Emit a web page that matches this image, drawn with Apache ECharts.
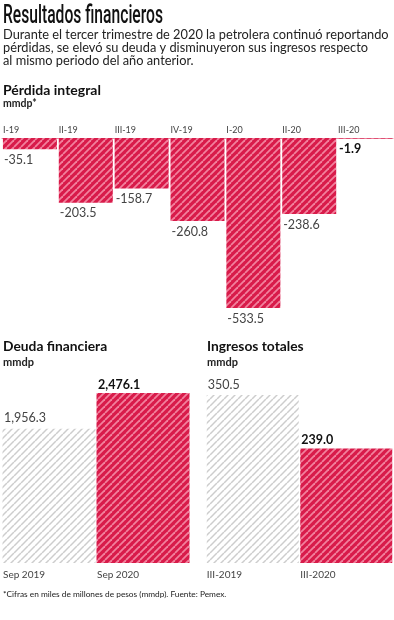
<!DOCTYPE html>
<html><head><meta charset="utf-8">
<script src="https://cdn.jsdelivr.net/npm/echarts@6/dist/echarts.min.js"></script>
<style>html,body{margin:0;padding:0;background:#fff}#c{width:394px;height:620px}</style>
</head><body><div id="c"></div>
<script>
// ---- data ----
const perdidaCats = ['I-19','II-19','III-19','IV-19','I-20','II-20','III-20'];
const perdidaVals = [-35.1, -203.5, -158.7, -260.8, -533.5, -238.6, -1.9];
const deudaCats = ['Sep 2019','Sep 2020'];
const deudaVals = [1956.3, 2476.1];
const ingresosCats = ['III-2019','III-2020'];
const ingresosVals = [350.5, 239.0];
const titleText = 'Resultados financieros';
const subtitleLines = ['Durante el tercer trimestre de 2020 la petrolera continuó reportando','pérdidas, se elevó su deuda y disminuyeron sus ingresos respecto','al mismo periodo del año anterior.'];
const footnote = '*Cifras en miles de millones de pesos (mmdp). Fuente: Pemex.';

function hatch(base, stripe, lw){
  const s = 7, c = document.createElement('canvas');
  c.width = s; c.height = s;
  const g = c.getContext('2d');
  g.fillStyle = base; g.fillRect(0,0,s,s);
  g.strokeStyle = stripe; g.lineWidth = lw;
  for (const o of [-s, 0, s]) { g.beginPath(); g.moveTo(o, s); g.lineTo(o + s, 0); g.stroke(); }
  return {image: c, repeat: 'repeat'};
}
const RED = hatch('#d81b4a', '#f2819d', 1.8);
const GRAY = hatch('#ffffff', '#cdcdcd', 1.5);

const sans = 'Lato, "Open Sans", sans-serif';
const fmt = v => v.toLocaleString('en-US',{minimumFractionDigits:1, maximumFractionDigits:1});

function catLabel(w, size){
  return {interval: 0, formatter: v => '{a|' + v + '}', rich: {a: {width: w, align: 'left', fontSize: size, color: '#444', fontFamily: sans}}};
}

// title: condensed look via horizontal scaling
const titleFont = '500 25px Roboto, sans-serif';
const mctx = document.createElement('canvas').getContext('2d');
mctx.font = titleFont;
const titleScale = 160 / mctx.measureText(titleText).width;

const chart = echarts.init(document.getElementById('c'), null, {renderer:'canvas'});
const txt = (x, y, t, size, weight, color, family) => ({type:'text', x, y, style:{text:t, font: (weight||'normal') + ' ' + size + 'px ' + (family||sans), fill: color||'#111', textVerticalAlign:'middle'}});

const titleEl = {type:'text', x:3, y:17, scaleX: titleScale, style:{text: titleText, font: titleFont, fill:'#111', textVerticalAlign:'middle'}};

const graphics = [
  titleEl,
  txt(3, 35, subtitleLines[0], 12.8, 'normal', '#222'),
  txt(3, 48, subtitleLines[1], 12.8, 'normal', '#222'),
  txt(3, 61, subtitleLines[2], 12.8, 'normal', '#222'),
  txt(3, 90, 'Pérdida integral', 14, 'bold', '#111'),
  txt(3, 104, 'mmdp*', 10.5, 'bold', '#222'),
  txt(3, 347, 'Deuda financiera', 13.8, 'bold', '#111'),
  txt(3, 362, 'mmdp', 11, 'bold', '#222'),
  txt(207, 347, 'Ingresos totales', 13.8, 'bold', '#111'),
  txt(207, 362, 'mmdp', 11, 'bold', '#222'),
  txt(3, 594, footnote, 8.3, 'normal', '#222')
];

chart.setOption({
  animation: false,
  grid: [
    {left: 1, width: 392, top: 138, height: 170},
    {left: 2, width: 188, top: 393, height: 170},
    {left: 206, width: 187, top: 395, height: 168}
  ],
  xAxis: [
    {gridIndex:0, type:'category', data: perdidaCats, position:'top',
     axisLine:{show:true, lineStyle:{color:'#e8879f', width:1}}, axisTick:{show:false},
     axisLabel: Object.assign({margin: 3}, catLabel(54, 9))},
    {gridIndex:1, type:'category', data: deudaCats, axisLine:{show:false}, axisTick:{show:false},
     axisLabel: Object.assign({margin: 7}, catLabel(92, 10))},
    {gridIndex:2, type:'category', data: ingresosCats, axisLine:{show:false}, axisTick:{show:false},
     axisLabel: Object.assign({margin: 7}, catLabel(92, 10))}
  ],
  yAxis: [
    {gridIndex:0, type:'value', min:-533.5, max:0, show:false},
    {gridIndex:1, type:'value', min:0, max:2476.1, show:false},
    {gridIndex:2, type:'value', min:0, max:350.5, show:false}
  ],
  series: [
    {type:'bar', xAxisIndex:0, yAxisIndex:0, barWidth:54,
     data: perdidaVals.map((v,i) => ({value:v, label: i === perdidaVals.length-1 ? {fontWeight:'bold', color:'#111'} : {}})),
     itemStyle:{color: RED},
     label:{show:true, position:'bottom', distance:4, align:'left', offset:[-26,0], fontSize:12.5, color:'#444', fontFamily: sans, formatter: p => fmt(p.value)}},
    {type:'bar', xAxisIndex:1, yAxisIndex:1, barWidth:93,
     data: deudaVals.map((v,i) => ({value:v, itemStyle:{color: i===0 ? GRAY : RED}, label: i===1 ? {fontWeight:'bold', color:'#111', distance:2} : {}})),
     label:{show:true, position:'top', distance:4, align:'left', offset:[-45,0], fontSize:12.5, color:'#444', fontFamily: sans, formatter: p => fmt(p.value)}},
    {type:'bar', xAxisIndex:2, yAxisIndex:2, barWidth:92,
     data: ingresosVals.map((v,i) => ({value:v, itemStyle:{color: i===0 ? GRAY : RED}, label: i===1 ? {fontWeight:'bold', color:'#111', distance:2} : {}})),
     label:{show:true, position:'top', distance:4, align:'left', offset:[-45,0], fontSize:12.5, color:'#444', fontFamily: sans, formatter: p => fmt(p.value)}}
  ],
  graphic: graphics
});
</script></body></html>
